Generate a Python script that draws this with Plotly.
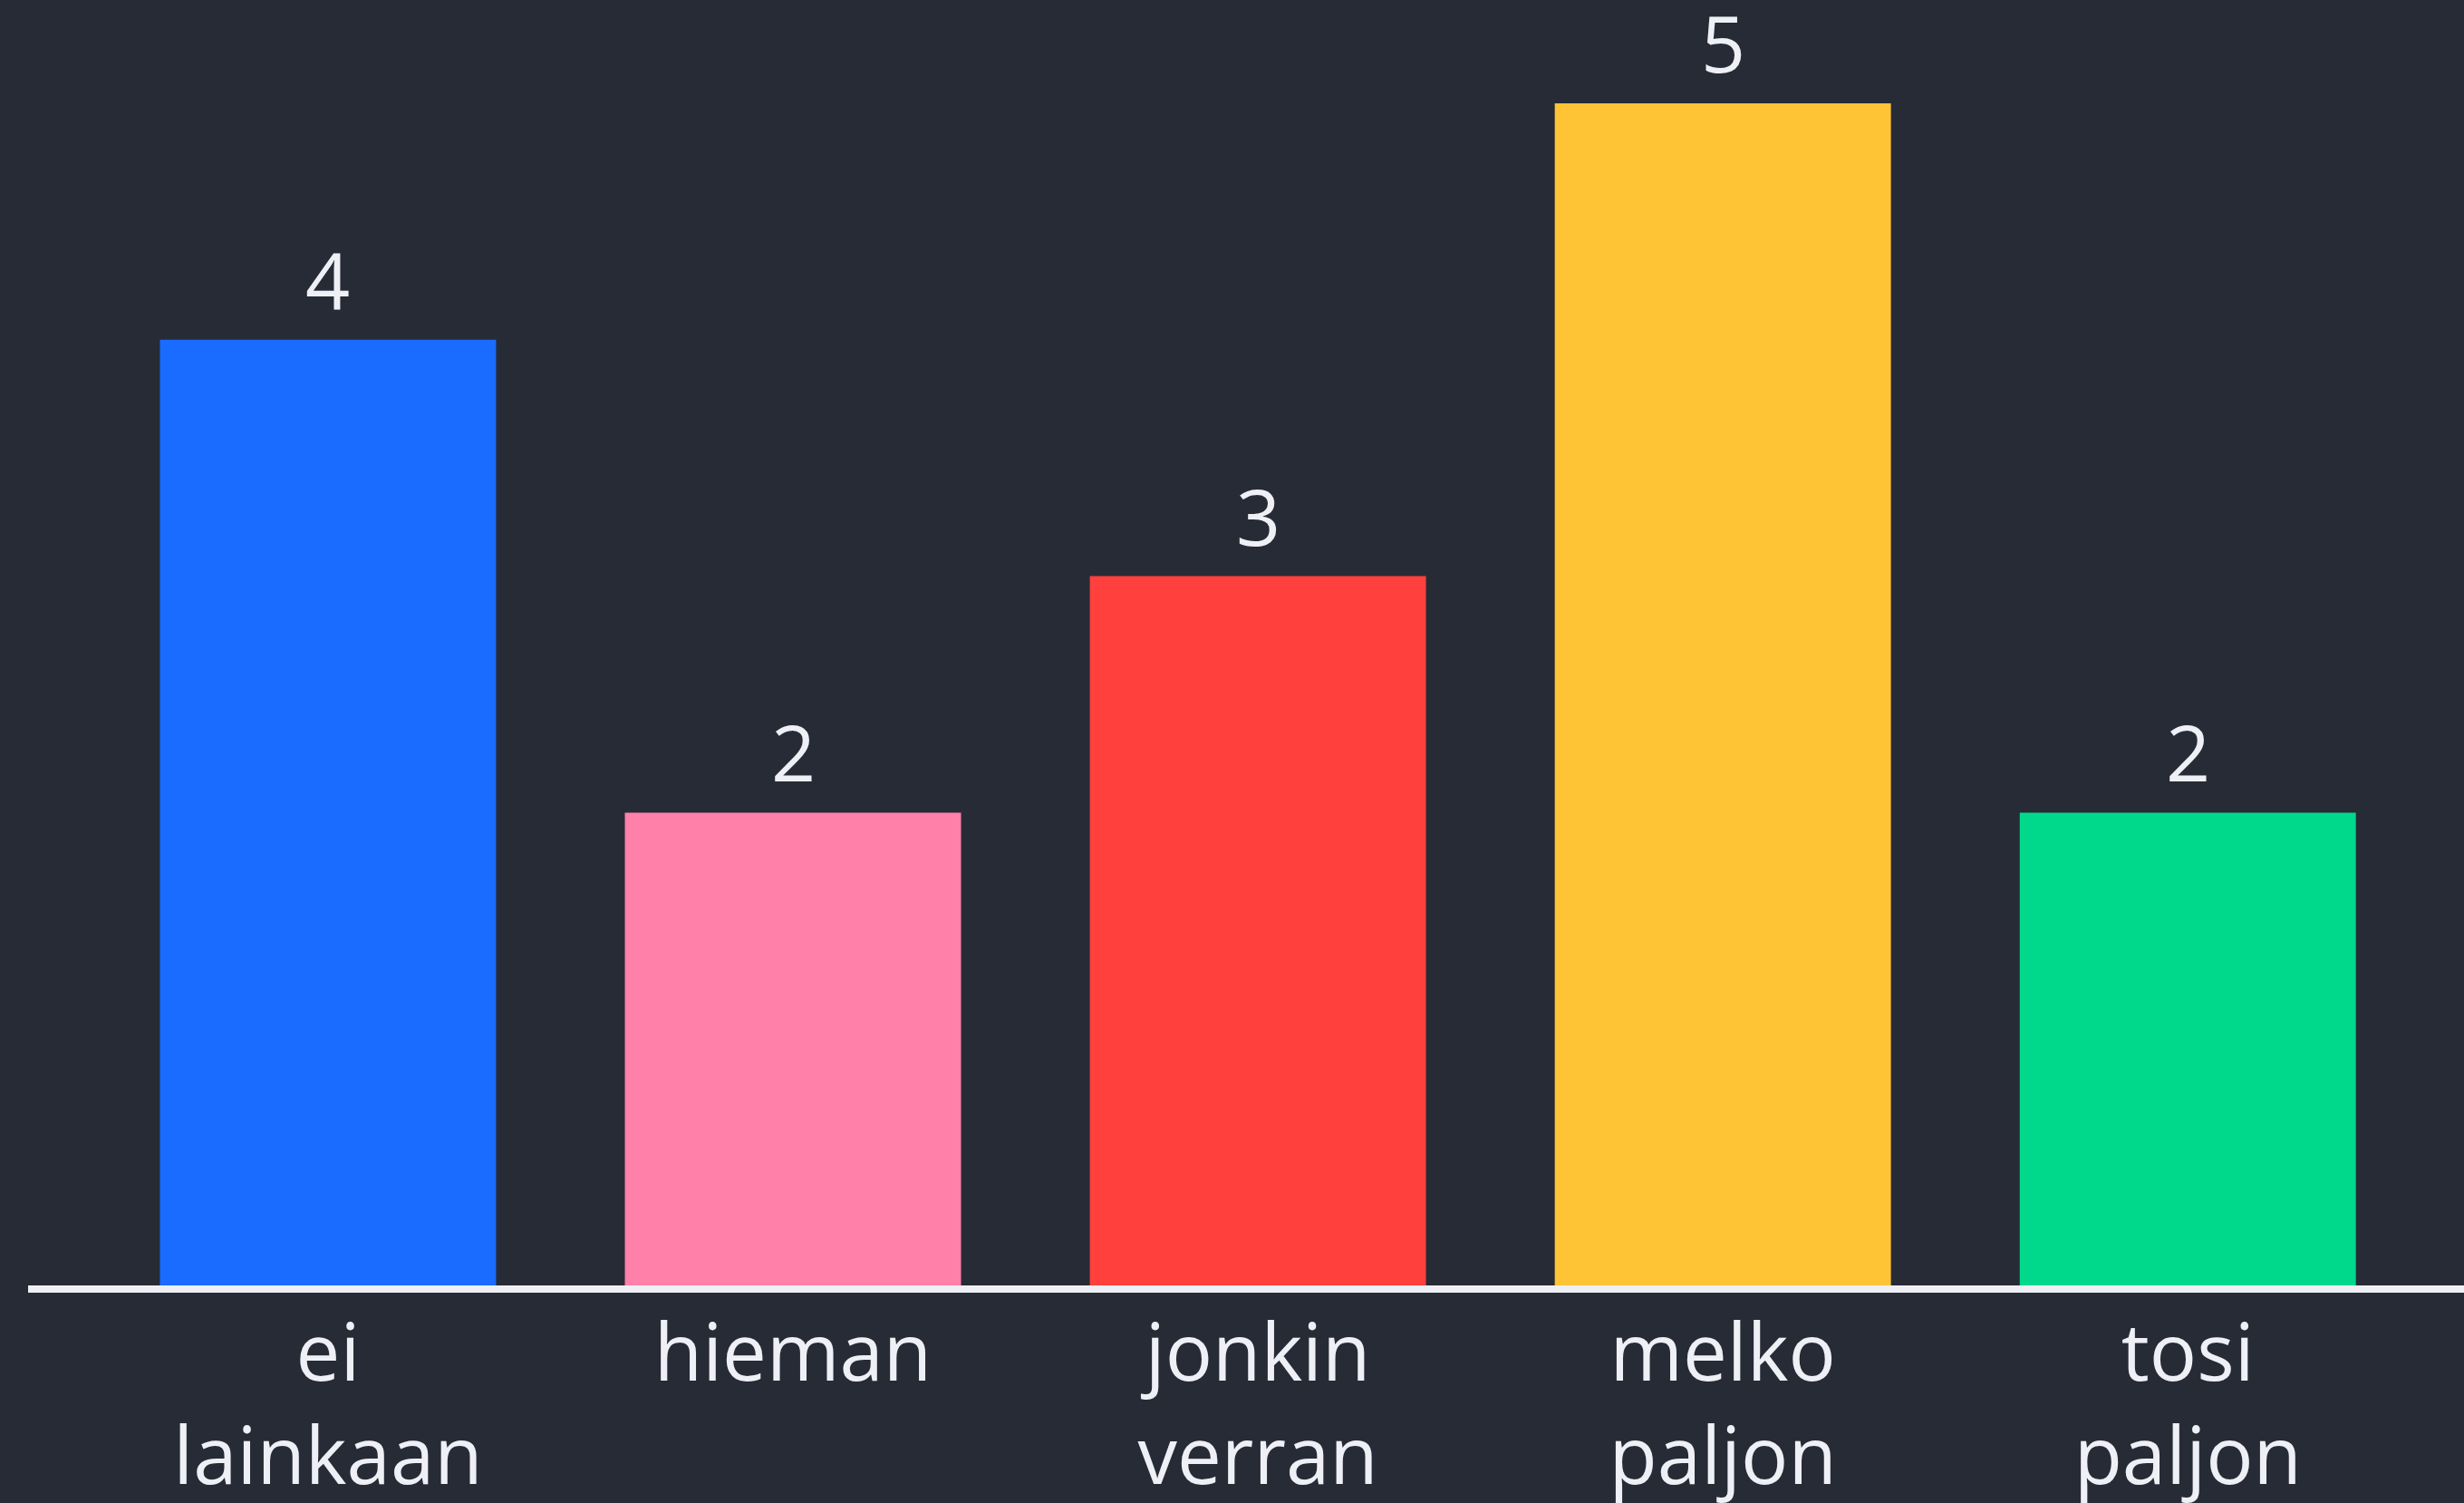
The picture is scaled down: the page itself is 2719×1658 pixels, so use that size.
import plotly.graph_objects as go

categories = ["ei<br>lainkaan", "hieman", "jonkin<br>verran", "melko<br>paljon", "tosi<br>paljon"]
values = [4, 2, 3, 5, 2]
colors = ["#196cff", "#ff80a9", "#ff403d", "#ffc436", "#00d98c"]

BG = "#272b36"
FG = "#eef0f6"
FONT = "Open Sans"

fig = go.Figure()
fig.add_trace(go.Bar(
    x=list(range(len(categories))),
    y=values,
    marker=dict(color=colors, line=dict(width=0)),
    hoverinfo="skip",
))

for i, v in enumerate(values):
    fig.add_annotation(
        x=i, y=v, text=str(v), showarrow=False,
        yanchor="middle", yshift=68, height=80, valign="middle",
        font=dict(family=FONT, size=86, color=FG),
    )

fig.update_layout(
    width=2719, height=1658,
    paper_bgcolor=BG, plot_bgcolor=BG,
    margin=dict(l=31, r=0, t=0, b=240, autoexpand=False),
    bargap=0.277,
    showlegend=False,
    xaxis=dict(
        range=[-0.645, 4.594],
        tickmode="array",
        tickvals=list(range(len(categories))),
        ticktext=categories,
        tickfont=dict(family=FONT, size=87, color=FG),
        showgrid=False, zeroline=False,
        showline=True, linecolor=FG, linewidth=8,
        ticks="", ticklabelstandoff=-7,
        automargin=False,
        fixedrange=True,
    ),
    yaxis=dict(
        range=[0, 5.437],
        showgrid=False, zeroline=False, showline=False,
        showticklabels=False, fixedrange=True,
        automargin=False,
    ),
)

fig.write_html(
    "out.html",
    config={"displayModeBar": False},
    post_script="document.body.style.margin='0';document.body.style.background='#272b36';",
)
